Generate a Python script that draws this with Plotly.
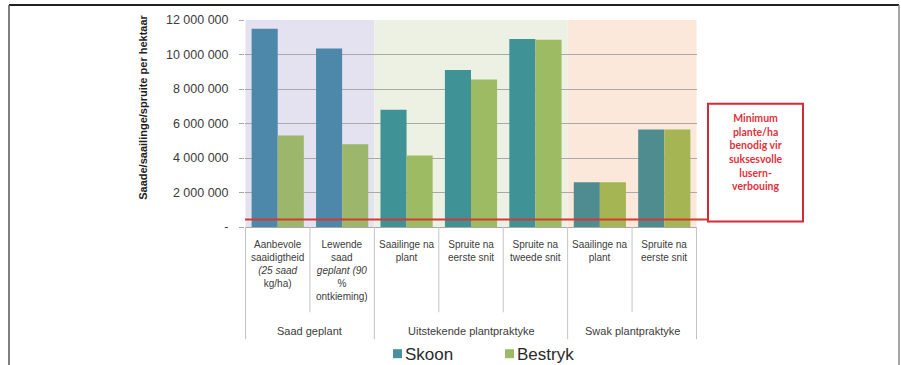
import plotly.graph_objects as go

# ---- data -------------------------------------------------------------
groups = ["Saad geplant", "Uitstekende plantpraktyke", "Swak plantpraktyke"]
group_of = [0, 0, 1, 1, 1, 2, 2]
category_lines = [
    ["Aanbevole", "saaidigtheid", "<i>(25 saad</i>", "kg/ha)"],
    ["Lewende", "saad", "<i>geplant (90</i>", "%", "ontkieming)"],
    ["Saailinge na", "plant"],
    ["Spruite na", "eerste snit"],
    ["Spruite na", "tweede snit"],
    ["Saailinge na", "plant"],
    ["Spruite na", "eerste snit"],
]
skoon = [11500000, 10350000, 6800000, 9100000, 10900000, 2600000, 5650000]
bestryk = [5300000, 4800000, 4150000, 8550000, 10850000, 2600000, 5650000]
minimum_plants = 430000
y_ticks = [0, 2000000, 4000000, 6000000, 8000000, 10000000, 12000000]
y_tick_text = ["-", "2 000 000", "4 000 000", "6 000 000", "8 000 000",
               "10 000 000", "12 000 000"]
y_title = "Saade/saailinge/spruite per hektaar"
note_text = "Minimum<br>plante/ha<br>benodig vir<br>suksesvolle<br>lusern-<br>verbouing"

# ---- styling ----------------------------------------------------------
W, H = 901, 365
L, R, T, B = 245, 697, 20, 227.5          # plot area in pixels
NARROW = "Liberation Sans Narrow, Arial Narrow, Liberation Sans, Arial"
TXT = "#3c3c3c"
region_fill = ["#e4e1f0", "#edf1e3", "#fbe8da"]
skoon_col = ["#4d88aa", "#3f9397", "#4e8c8f"]
bestryk_col = ["#9cb66b", "#9dbb62", "#a6b554"]

keys = [f"{groups[g]}|{i}" for i, g in enumerate(group_of)]


def px(x):
    return (x - L) / (R - L)


def py(y):
    return (B - y) / (B - T)


fig = go.Figure()
fig.add_trace(go.Bar(name="Skoon", x=keys, y=skoon,
                     marker=dict(color=[skoon_col[g] for g in group_of], line_width=0)))
fig.add_trace(go.Bar(name="Bestryk", x=keys, y=bestryk,
                     marker=dict(color=[bestryk_col[g] for g in group_of], line_width=0)))

shapes = []
annotations = []

# shaded practice regions behind the bars
start = 0
for g in range(len(groups)):
    n = group_of.count(g)
    shapes.append(dict(type="rect", xref="x", yref="paper", x0=start - 0.5, x1=start + n - 0.5,
                       y0=0, y1=1, fillcolor=region_fill[g], line_width=0, layer="below"))
    start += n

# category label table below the axis
n_cat = len(keys)
for i in range(n_cat + 1):
    boundary = i == 0 or i == n_cat or group_of[i] != group_of[i - 1]
    bottom = 340 if boundary else 313
    shapes.append(dict(type="line", xref="x", yref="paper", x0=i - 0.5, x1=i - 0.5,
                       y0=py(B), y1=py(bottom), line=dict(color="#c4c4c4", width=1)))

for i, lines in enumerate(category_lines):
    annotations.append(dict(xref="x", yref="paper", x=i, y=py(238), text="<br>".join(lines),
                            showarrow=False, xanchor="center", yanchor="top",
                            font=dict(family=NARROW, size=10, color=TXT)))

start = 0
for g, name in enumerate(groups):
    n = group_of.count(g)
    annotations.append(dict(xref="x", yref="paper", x=start + (n - 1) / 2, y=py(332), text=name,
                            showarrow=False, xanchor="center", yanchor="middle",
                            font=dict(family=NARROW, size=11, color=TXT)))
    start += n

# minimum threshold line leading to the note box
shapes.append(dict(type="line", xref="paper", yref="y", x0=0, x1=px(708),
                   y0=minimum_plants, y1=minimum_plants,
                   line=dict(color="#d23a33", width=2), layer="above"))
shapes.append(dict(type="rect", xref="paper", yref="paper", x0=px(708), x1=px(803),
                   y0=py(222), y1=py(104), fillcolor="white",
                   line=dict(color="#d42a35", width=2)))
annotations.append(dict(xref="paper", yref="paper", x=px(755.5), y=py(152), text=note_text,
                        showarrow=False, xanchor="center", yanchor="middle",
                        font=dict(family="Lato, Open Sans, sans-serif", size=10.5,
                                  color="#e0323c", weight="bold")))

# y-axis title
annotations.append(dict(xref="paper", yref="paper", x=px(143), y=py(108), text=f"<b>{y_title}</b>",
                        textangle=-90, showarrow=False, xanchor="center", yanchor="middle",
                        font=dict(family=NARROW, size=11, color="#1e1e1e")))

# legend drawn as swatches and labels
for name, col, sx in [("Skoon", "#4a8fa0", 393), ("Bestryk", "#9dba64", 505)]:
    shapes.append(dict(type="rect", xref="paper", yref="paper", x0=px(sx), x1=px(sx + 9),
                       y0=py(359), y1=py(350), fillcolor=col, line_width=0))
    annotations.append(dict(xref="paper", yref="paper", x=px(sx + 10), y=py(355), text=name,
                            showarrow=False, xanchor="left", yanchor="middle",
                            font=dict(family=NARROW, size=17, color="#2a2a2a")))

# outer frame
shapes.append(dict(type="line", xref="paper", yref="paper", x0=px(9), x1=px(899),
                   y0=py(5), y1=py(5), line=dict(color="#222222", width=2)))
shapes.append(dict(type="line", xref="paper", yref="paper", x0=px(9), x1=px(9),
                   y0=py(5), y1=py(366), line=dict(color="#555555", width=1.5)))
shapes.append(dict(type="line", xref="paper", yref="paper", x0=px(899), x1=px(899),
                   y0=py(5), y1=py(366), line=dict(color="#888888", width=1.5)))

fig.update_layout(
    width=W, height=H,
    margin=dict(l=L, r=W - R, t=T, b=H - B, pad=0),
    paper_bgcolor="white", plot_bgcolor="rgba(0,0,0,0)",
    barmode="group", bargap=0.19, bargroupgap=0,
    showlegend=False,
    shapes=shapes, annotations=annotations,
    xaxis=dict(type="category", showticklabels=False, showgrid=False, zeroline=False,
               showline=True, linecolor="#a8a8a8", linewidth=1, ticks=""),
    yaxis=dict(range=[0, 12000000], tickvals=y_ticks, ticktext=y_tick_text,
               showgrid=True, gridcolor="#a9a9a9", gridwidth=1, zeroline=False,
               showline=False, ticks="outside", ticklen=5, tickcolor="#a9a9a9",
               ticklabelstandoff=8,
               tickfont=dict(family=NARROW, size=12.5, color=TXT)),
)

fig.write_html("out.html")
